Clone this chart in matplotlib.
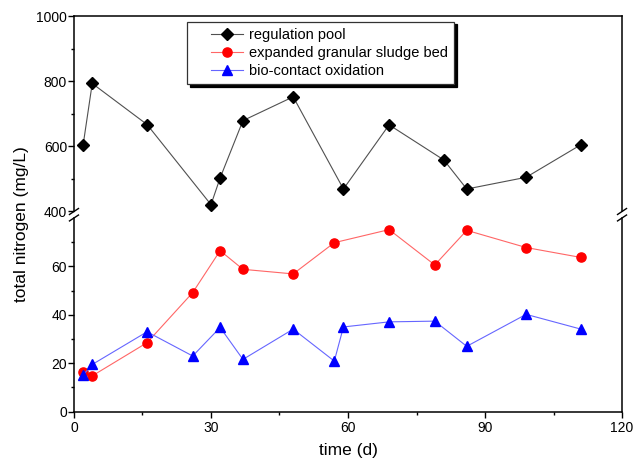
import matplotlib
matplotlib.use('Agg')
import matplotlib.pyplot as plt
from matplotlib.lines import Line2D
from matplotlib.legend_handler import HandlerLine2D
from matplotlib.ticker import MultipleLocator

plt.rcParams['font.family'] = ['Liberation Sans', 'DejaVu Sans']

# sampling days and total nitrogen (mg/L)
days_pool = [2, 4, 16, 30, 32, 37, 48, 59, 69, 81, 86, 99, 111]
tn_pool = [604, 793, 667, 421, 503, 679, 752, 469, 666, 558, 469, 505, 605]

days_egsb = [2, 4, 16, 26, 32, 37, 48, 57, 69, 79, 86, 99, 111]
tn_egsb = [16.5, 14.8, 28.5, 49.2, 66.5, 58.8, 56.9, 69.8, 75.2, 60.6, 74.9, 67.8, 63.7]

days_bco = [2, 4, 16, 26, 32, 37, 48, 57, 59, 69, 79, 86, 99, 111]
tn_bco = [15.1, 19.5, 33.0, 23.0, 34.8, 21.6, 34.1, 20.9, 35.0, 37.1, 37.4, 27.0, 40.2, 34.1]

labels = ['regulation pool', 'expanded granular sludge bed', 'bio-contact oxidation']

fig = plt.figure(figsize=(6.41, 4.63), dpi=100)
ax_top = fig.add_axes([0.1154, 0.5432, 0.855, 0.4222])
ax_bot = fig.add_axes([0.1154, 0.1108, 0.855, 0.4184])

l1, = ax_top.plot(days_pool, tn_pool, color='#505050', lw=0.8, marker='D',
                  markersize=6.3, markerfacecolor='k', markeredgecolor='k', label=labels[0])
l2, = ax_bot.plot(days_egsb, tn_egsb, color='#ff6666', lw=0.8, marker='o',
                  markersize=6.6, markerfacecolor='r', markeredgecolor='r', label=labels[1])
l3, = ax_bot.plot(days_bco, tn_bco, color='#6666ff', lw=0.8, marker='^',
                  markersize=7.5, markerfacecolor='b', markeredgecolor='b', label=labels[2])

for ax in (ax_top, ax_bot):
    ax.set_xlim(0, 120)
    for s in ax.spines.values():
        s.set_linewidth(1.1)
    ax.tick_params(which='major', direction='out', length=4, width=1, labelsize=10)
    ax.tick_params(which='minor', direction='out', length=2.2, width=1)
    ax.tick_params(axis='y', pad=1)

ax_top.set_ylim(400, 1000)
ax_top.yaxis.set_major_locator(MultipleLocator(200))
ax_top.yaxis.set_minor_locator(MultipleLocator(100))
ax_top.spines['bottom'].set_visible(False)
ax_top.tick_params(axis='x', which='both', bottom=False, labelbottom=False)

ax_bot.set_ylim(0, 80)
ax_bot.set_yticks([0, 20, 40, 60])
ax_bot.set_yticks([10, 30, 50, 70], minor=True)
ax_bot.xaxis.set_major_locator(MultipleLocator(30))
ax_bot.xaxis.set_minor_locator(MultipleLocator(15))
ax_bot.spines['top'].set_visible(False)
ax_bot.tick_params(axis='x', pad=3)

# axis break marks on both sides
dx, dy = 0.0082, 0.0153
for xa in (0, 1):
    ax_top.plot([xa - dx, xa + dx], [-dy, dy], transform=ax_top.transAxes,
                color='k', lw=1, clip_on=False)
    ax_bot.plot([xa - dx, xa + dx], [1 - dy, 1 + dy], transform=ax_bot.transAxes,
                color='k', lw=1, clip_on=False)

fig.text(0.5437, 0.026, 'time (d)', ha='center', va='center', fontsize=12.5)
fig.text(0.034, 0.516, 'total nitrogen (mg/L)', ha='center', va='center',
         rotation=90, fontsize=12.5)

leg = ax_top.legend(handles=[l1, l2, l3], loc='upper left',
                    bbox_to_anchor=(187.3 / 641, 1 - 21.5 / 463),
                    bbox_transform=fig.transFigure, borderaxespad=0,
                    fontsize=10.5, borderpad=0.45, labelspacing=0.26,
                    handlelength=3.35, handletextpad=0.41,
                    handler_map={Line2D: HandlerLine2D(xpad=1.15, numpoints=1)},
                    fancybox=False, framealpha=1, edgecolor='#333333',
                    shadow={'color': 'black', 'alpha': 1})
leg.get_frame().set_linewidth(0.9)

fig.savefig('out.png', dpi=100)
